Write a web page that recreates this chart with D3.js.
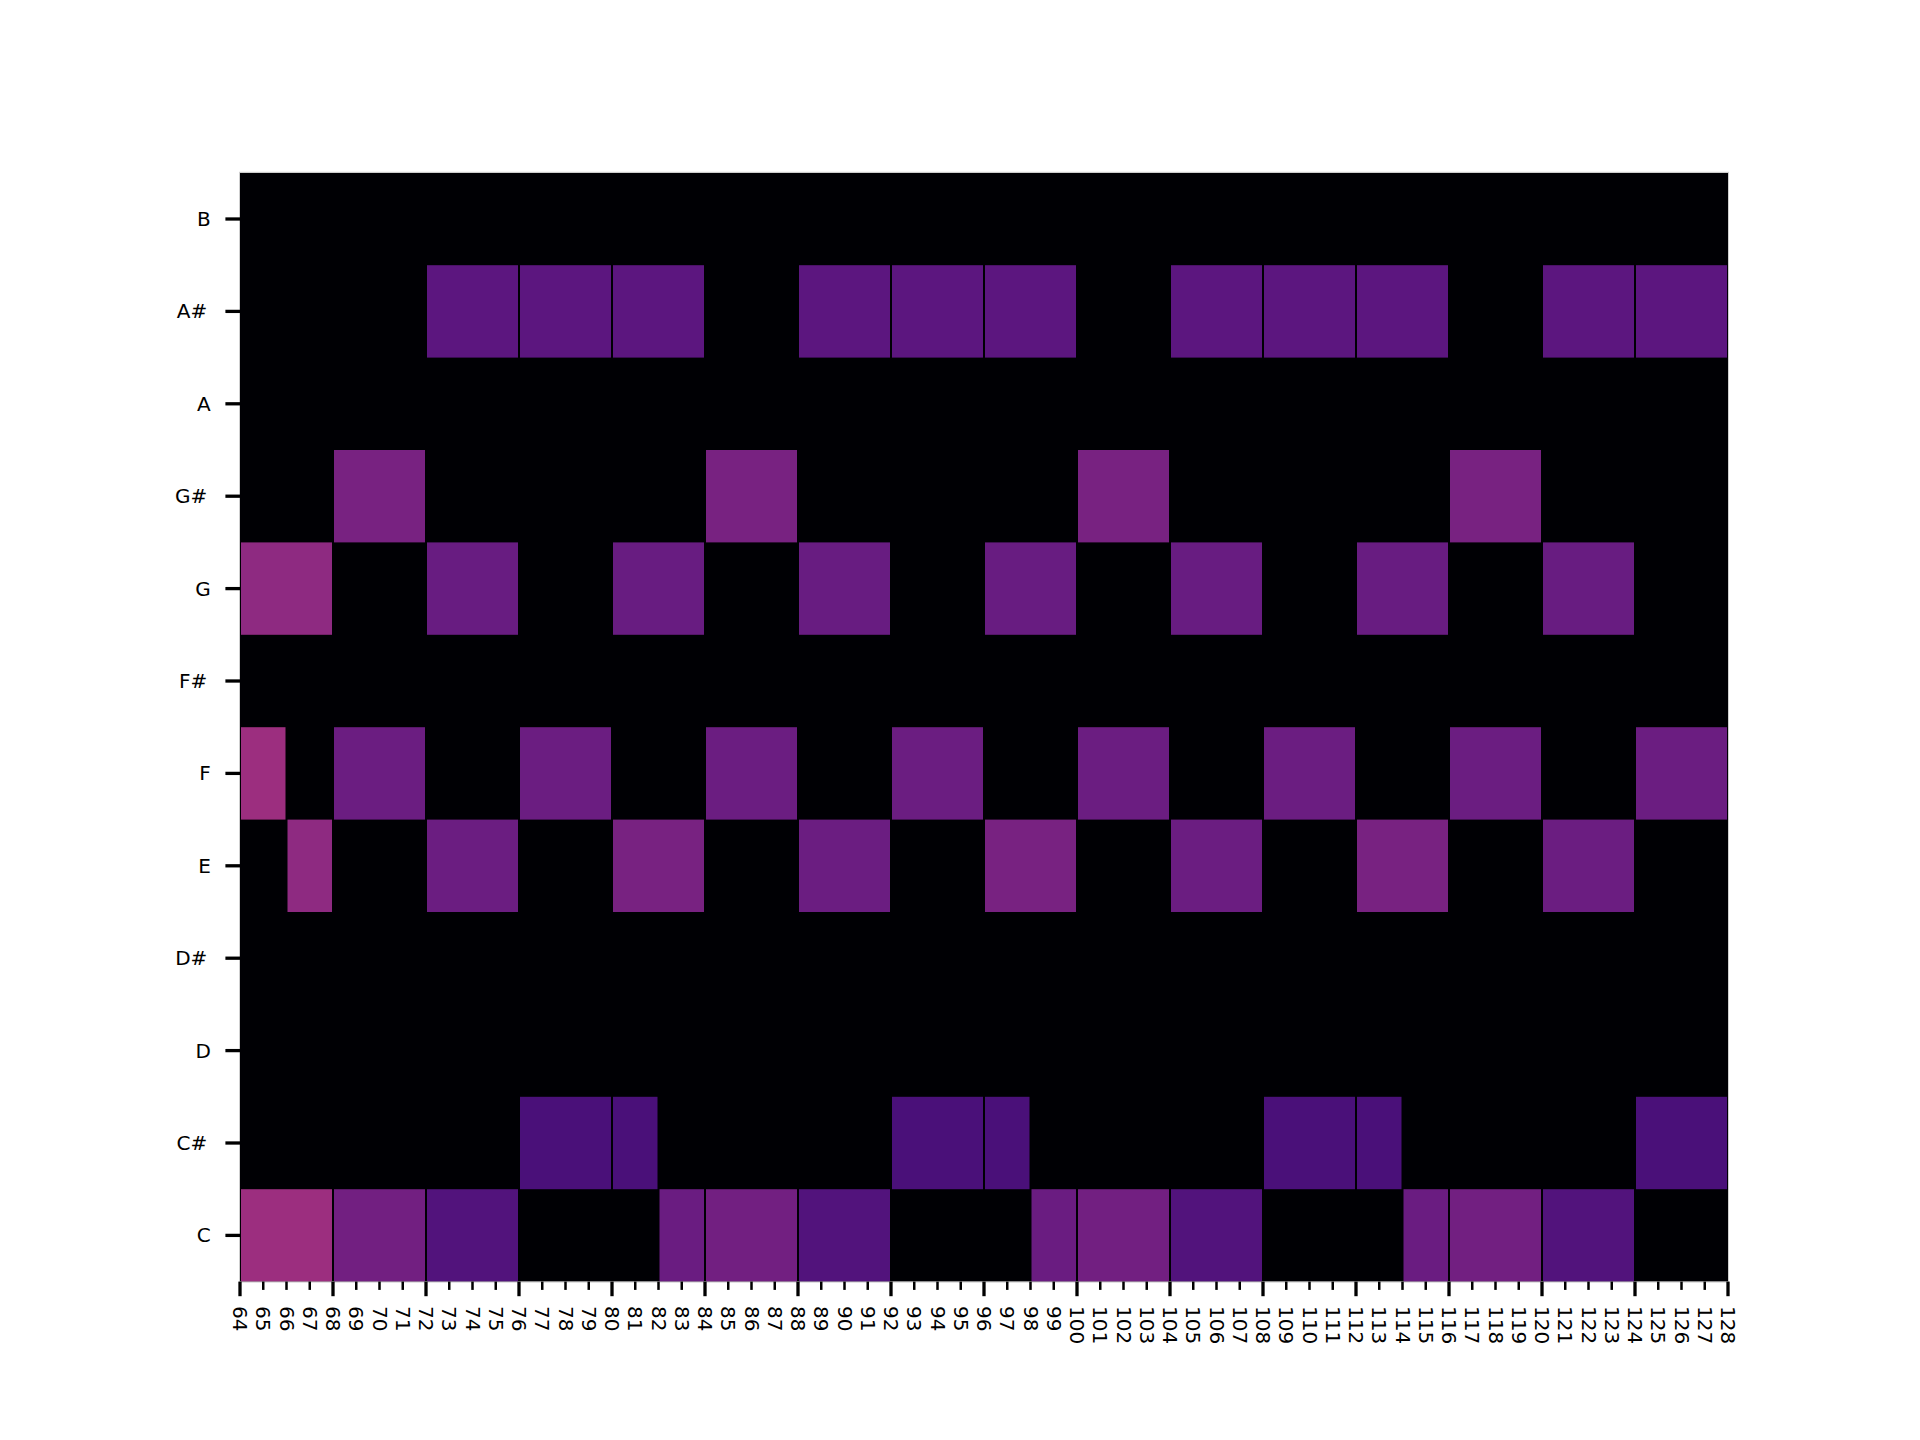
<!DOCTYPE html>
<html>
<head>
<meta charset="utf-8">
<script src="https://cdn.jsdelivr.net/npm/d3@7"></script>
<style>
  html, body { margin: 0; padding: 0; background: #ffffff; }
  svg { display: block; }
  text { font-family: "DejaVu Sans", sans-serif; fill: #000; }
</style>
</head>
<body>
<svg id="chart" width="1920" height="1440"></svg>
<script>
// ---- data ----
const chromaLabels = ["C", "C#", "D", "D#", "E", "F", "F#", "G", "G#", "A", "A#", "B"];
const frameStart = 64;
const frameEnd = 128;
const frameTicks = d3.range(64, 129);

// each entry: [start frame, end frame, chroma energy]
const rowC  = [[64,68,0.44],[68,72,0.335],[72,76,0.255],[82,84,0.315],[84,88,0.335],[88,92,0.255],
               [98,100,0.315],[100,104,0.335],[104,108,0.255],[114,116,0.315],[116,120,0.335],[120,124,0.255]];
const rowCs = [[76,80,0.235],[80,82,0.235],[92,96,0.235],[96,98,0.235],[108,112,0.235],[112,114,0.235],[124,128,0.235]];
const rowD  = [];
const rowDs = [];
const rowE  = [[66,68,0.405],[72,76,0.32],[80,84,0.35],[88,92,0.32],[96,100,0.35],[104,108,0.32],[112,116,0.35],[120,124,0.32]];
const rowF  = [[64,66,0.44],[68,72,0.32],[76,80,0.32],[84,88,0.32],[92,96,0.32],[100,104,0.32],[108,112,0.32],[116,120,0.32],[124,128,0.32]];
const rowFs = [];
const rowG  = [[64,68,0.405],[72,76,0.31],[80,84,0.31],[88,92,0.31],[96,100,0.31],[104,108,0.31],[112,116,0.31],[120,124,0.31]];
const rowGs = [[68,72,0.35],[84,88,0.35],[100,104,0.35],[116,120,0.35]];
const rowA  = [];
const rowAs = [[72,76,0.28],[76,80,0.28],[80,84,0.28],[88,92,0.28],[92,96,0.28],[96,100,0.28],
               [104,108,0.28],[108,112,0.28],[112,116,0.28],[120,124,0.28],[124,128,0.28]];
const rowB  = [];

const rows = [rowC, rowCs, rowD, rowDs, rowE, rowF, rowFs, rowG, rowGs, rowA, rowAs, rowB];
const cells = [];
rows.forEach((r, i) => r.forEach(([s, e, v]) => cells.push({chroma: chromaLabels[i], s, e, v})));

// ---- layout ----
const plotL = 240, plotR = 1728, plotT = 172.8, plotB = 1281.6;

const svg = d3.select("#chart");
const x = d3.scaleLinear().domain([frameStart, frameEnd]).range([plotL, plotR]);
const y = d3.scaleBand().domain(chromaLabels.slice().reverse()).range([plotT, plotB]).padding(0);
const color = d3.scaleSequential(d3.interpolateMagma).domain([0, 1]);

// background (zero energy)
svg.append("rect")
  .attr("x", x(frameStart)).attr("y", plotT)
  .attr("width", x(frameEnd) - x(frameStart)).attr("height", plotB - plotT)
  .attr("fill", color(0));

// cells
svg.append("g").selectAll("rect").data(cells).join("rect")
  .attr("x", d => x(d.s) + 1)
  .attr("y", d => y(d.chroma))
  .attr("width", d => x(d.e) - x(d.s) - 2)
  .attr("height", y.bandwidth())
  .attr("fill", d => color(d.v));

// light frame
svg.append("rect")
  .attr("x", plotL - 0.5).attr("y", plotT - 0.5)
  .attr("width", plotR - plotL + 1).attr("height", plotB - plotT + 1)
  .attr("fill", "none").attr("stroke", "#cfcfcf").attr("stroke-width", 1);

// y axis
const yAxis = svg.append("g");
chromaLabels.forEach(lbl => {
  const cy = y(lbl) + y.bandwidth() / 2;
  yAxis.append("line")
    .attr("x1", plotL - 14.6).attr("x2", plotL)
    .attr("y1", cy).attr("y2", cy)
    .attr("stroke", "#000").attr("stroke-width", 3.3);
  yAxis.append("text")
    .attr("x", plotL - 29.2 - (lbl.includes("#") ? 3.5 : 0))
    .attr("y", cy)
    .attr("text-anchor", "end")
    .attr("dominant-baseline", "central")
    .style("font-size", "20px")
    .text(lbl);
});

// x axis
const xAxis = svg.append("g");
frameTicks.forEach(f => {
  const major = (f % 4 === 0);
  xAxis.append("line")
    .attr("x1", x(f)).attr("x2", x(f))
    .attr("y1", plotB).attr("y2", plotB + (major ? 14.6 : 8.3))
    .attr("stroke", "#000").attr("stroke-width", major ? 3.3 : 2.5);
  xAxis.append("text")
    .attr("transform", `translate(${x(f)},${plotB + 24.5}) rotate(90)`)
    .attr("text-anchor", "start")
    .attr("dominant-baseline", "central")
    .style("font-size", "20px")
    .text(f);
});
</script>
</body>
</html>
